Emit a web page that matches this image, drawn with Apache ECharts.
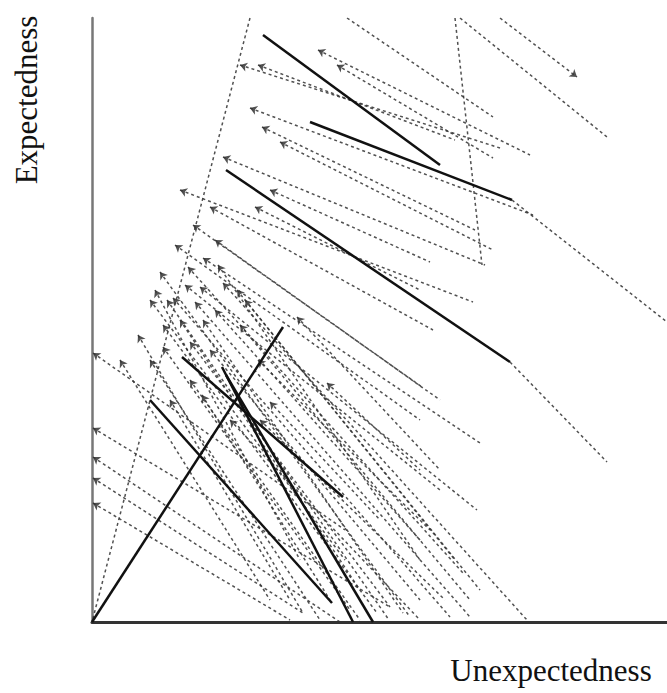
<!DOCTYPE html>
<html><head><meta charset="utf-8">
<script src="https://cdn.jsdelivr.net/npm/echarts@6/dist/echarts.min.js"></script>
<style>html,body{margin:0;padding:0;background:#fff}#c{width:667px;height:693px}</style>
</head><body><div id="c"></div>
<script>
// Axis titles
const xAxisLabel = 'Unexpectedness';
const yAxisLabel = 'Expectedness';

// Axis ranges (value units)
const xRange = [0, 575];
const yRange = [0, 604];

// Each segment: [xStart, yStart, xEnd, yEnd]
// Solid trajectories
const solidSegments = [
  [0, 0, 191, 295],
  [171, 587, 348, 457],
  [218, 500, 420, 422],
  [134, 452, 418, 260],
  [58, 222, 240, 19],
  [90, 265, 251, 125],
  [130, 255, 261, 0],
  [134, 247, 281, 0]
];

// Dashed trajectories with arrowhead at start (upper-left)
const arrowSegments = [
  [226, 572, 438, 467],
  [245, 557, 401, 464],
  [148, 557, 408, 474],
  [166, 557, 363, 482],
  [158, 514, 441, 407],
  [170, 495, 383, 392],
  [188, 480, 401, 372],
  [131, 465, 393, 357],
  [88, 432, 381, 320],
  [118, 415, 341, 292],
  [163, 415, 328, 332],
  [178, 432, 338, 360],
  [101, 397, 330, 235],
  [111, 364, 388, 179],
  [96, 355, 371, 49],
  [68, 350, 318, 5],
  [75, 322, 297, 2],
  [81, 324, 358, 5],
  [103, 320, 378, 5],
  [108, 335, 385, 112],
  [131, 339, 435, 2],
  [145, 332, 363, 62],
  [111, 302, 311, 9],
  [71, 297, 285, 9],
  [46, 287, 211, 9],
  [98, 280, 298, 15],
  [71, 275, 258, 12],
  [110, 227, 238, 22],
  [78, 222, 198, 22],
  [166, 262, 338, 92],
  [205, 305, 348, 152],
  [235, 239, 328, 152],
  [178, 220, 288, 102],
  [83, 377, 328, 202],
  [123, 382, 348, 222],
  [93, 337, 348, 132],
  [58, 322, 253, 62],
  [123, 312, 328, 82],
  [148, 297, 378, 22],
  [88, 302, 268, 32],
  [58, 262, 228, 2],
  [118, 272, 328, 22],
  [126, 357, 328, 62],
  [153, 322, 388, 32],
  [98, 242, 268, 2],
  [138, 202, 328, 2],
  [168, 202, 353, 22],
  [63, 332, 208, 62],
  [28, 262, 178, 22],
  [1, 269, 253, 92],
  [1, 194, 298, 15],
  [1, 165, 248, 0],
  [1, 144, 211, 9],
  [1, 119, 198, 2]
];

// Dashed trajectories without arrowheads
const plainSegments = [
  [158, 604, 0, 0],
  [363, 604, 390, 357],
  [368, 604, 515, 485],
  [255, 604, 401, 505],
  [420, 422, 575, 300],
  [418, 260, 515, 160]
];

// Dashed trajectories with arrowhead at end
const endArrowSegments = [
  [408, 604, 485, 545]
];

function toLines(arr) {
  return arr.map(s => ({ coords: [[s[0], s[1]], [s[2], s[3]]] }));
}

const dashStyle = { color: '#333', width: 1.5, type: [3, 3], opacity: 0.85 };

const chart = echarts.init(document.getElementById('c'), null, { renderer: 'svg' });
chart.setOption({
  backgroundColor: '#fff',
  animation: false,
  grid: { left: 92, top: 18, right: 0, bottom: 71 },
  xAxis: {
    type: 'value', min: xRange[0], max: xRange[1],
    axisLine: { show: true, lineStyle: { color: '#333', width: 3 } },
    axisTick: { show: false }, axisLabel: { show: false }, splitLine: { show: false }
  },
  yAxis: {
    type: 'value', min: yRange[0], max: yRange[1],
    axisLine: { show: true, lineStyle: { color: '#777', width: 2.5 } },
    axisTick: { show: false }, axisLabel: { show: false }, splitLine: { show: false }
  },
  series: [
    { type: 'lines', coordinateSystem: 'cartesian2d', silent: true, z: 2,
      data: toLines(plainSegments), symbol: ['none', 'none'], lineStyle: dashStyle },
    { type: 'lines', coordinateSystem: 'cartesian2d', silent: true, z: 2,
      data: toLines(arrowSegments), symbol: ['arrow', 'none'], symbolSize: 7, lineStyle: dashStyle },
    { type: 'lines', coordinateSystem: 'cartesian2d', silent: true, z: 2,
      data: toLines(endArrowSegments), symbol: ['none', 'arrow'], symbolSize: 7, lineStyle: dashStyle },
    { type: 'lines', coordinateSystem: 'cartesian2d', silent: true, z: 3,
      data: toLines(solidSegments), symbol: ['none', 'none'],
      lineStyle: { color: '#111', width: 2.5, type: 'solid', opacity: 1 } }
  ],
  graphic: [
    { type: 'text', x: 26, y: 100, rotation: Math.PI / 2,
      style: { text: yAxisLabel, font: '31px "Liberation Serif", serif', fill: '#111',
               align: 'center', verticalAlign: 'middle' } },
    { type: 'text', x: 551, y: 670,
      style: { text: xAxisLabel, font: '31px "Liberation Serif", serif', fill: '#111',
               align: 'center', verticalAlign: 'middle' } }
  ]
});
</script>
</body></html>
